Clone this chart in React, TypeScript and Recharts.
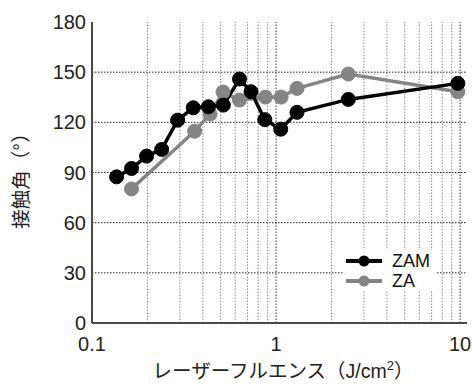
import { LineChart, Line, XAxis, YAxis, ReferenceLine, Legend } from 'recharts'

// ZAM / ZA contact angle vs laser fluence
const zamFluence = [0.136, 0.164, 0.198, 0.239, 0.292, 0.355, 0.429, 0.517, 0.633, 0.731, 0.869, 1.06, 1.3, 2.47, 9.72]
const zamAngle = [87.4, 92.4, 99.8, 103.8, 121.3, 128.7, 129.3, 130.3, 145.9, 138.3, 121.6, 115.9, 126, 133.7, 143.3]
const zaFluence = [0.164, 0.361, 0.438, 0.515, 0.633, 0.875, 1.065, 1.3, 2.47, 9.72]
const zaAngle = [80.2, 114.7, 124.9, 138.1, 133.3, 135.1, 135.1, 140.3, 148.9, 138.3]

const xTicks = [0.1, 1, 10]
const xMinor = [0.2, 0.3, 0.4, 0.5, 0.6, 0.7, 0.8, 0.9, 2, 3, 4, 5, 6, 7, 8, 9]
const yTicks = [0, 30, 60, 90, 120, 150, 180]
const yGrid = [30, 60, 90, 120, 150]

const X_DOMAIN: [number, number] = [0.1, 10.9]
const Y_DOMAIN: [number, number] = [0, 180]

const ZAM_COLOR = '#000000'
const ZA_COLOR = '#858585'
const AXIS_COLOR = '#4a4a4a'
const FONT = '"Liberation Sans", Arial, "Noto Sans CJK JP", sans-serif'

const zamData = zamFluence.map((x, i) => ({ x, y: zamAngle[i] }))
const zaData = zaFluence.map((x, i) => ({ x, y: zaAngle[i] }))

const series = [
  { name: 'ZAM', color: ZAM_COLOR },
  { name: 'ZA', color: ZA_COLOR },
]

const noLabel = () => <g />
const tickStroke = { stroke: AXIS_COLOR, strokeWidth: 1.5 }

function LegendBox() {
  return (
    <div style={{ background: '#fff', width: 94, paddingTop: 1 }}>
      {series.map((s) => (
        <div key={s.name} style={{ display: 'flex', alignItems: 'center', height: 20 }}>
          <svg width={36} height={20} style={{ marginLeft: 3 }}>
            <line x1={0} y1={10} x2={36} y2={10} stroke={s.color} strokeWidth={4} />
            <circle cx={18} cy={10} r={5.5} fill={s.color} />
          </svg>
          <span style={{ marginLeft: 10, fontSize: 18, color: '#111', fontFamily: FONT }}>{s.name}</span>
        </div>
      ))}
    </div>
  )
}

export default function App() {
  return (
    <div style={{ position: 'absolute', left: 0, top: 0, width: 472, height: 385, background: '#fff', fontFamily: FONT }}>
      <LineChart width={472} height={385} margin={{ top: 22, right: 5, bottom: 0, left: 0 }} style={{ fontFamily: FONT }}>
        {xMinor.map((v) => (
          <ReferenceLine key={'vx' + v} x={v} stroke="#8a8a8a" strokeDasharray="1.5 1.5" />
        ))}
        {xTicks.slice(1).map((v) => (
          <ReferenceLine key={'vX' + v} x={v} stroke="#333" strokeDasharray="1.5 1.5" />
        ))}
        {yGrid.map((v) => (
          <ReferenceLine key={'hy' + v} y={v} stroke="#222" strokeDasharray="1.5 1.5" />
        ))}

        <XAxis
          dataKey="x"
          type="number"
          scale="log"
          domain={X_DOMAIN}
          allowDataOverflow
          ticks={xTicks}
          height={62}
          tickLine={false}
          tickSize={0}
          tickMargin={14}
          axisLine={{ stroke: AXIS_COLOR, strokeWidth: 2 }}
          tick={{ fontSize: 20, fill: '#222' }}
          tickFormatter={(v) => String(v)}
        />
        <XAxis xAxisId="bMaj" dataKey="x" type="number" scale="log" domain={X_DOMAIN} allowDataOverflow
          ticks={xTicks} orientation="bottom" mirror height={0} axisLine={false} tickSize={9}
          tickLine={tickStroke} tick={noLabel} />
        <XAxis xAxisId="bMin" dataKey="x" type="number" scale="log" domain={X_DOMAIN} allowDataOverflow
          ticks={xMinor} orientation="bottom" mirror height={0} axisLine={false} tickSize={5}
          tickLine={tickStroke} tick={noLabel} />
        <XAxis xAxisId="tMaj" dataKey="x" type="number" scale="log" domain={X_DOMAIN} allowDataOverflow
          ticks={xTicks} orientation="top" mirror height={0} tickSize={9}
          axisLine={{ stroke: AXIS_COLOR, strokeWidth: 2 }}
          tickLine={tickStroke} tick={noLabel} />
        <XAxis xAxisId="tMin" dataKey="x" type="number" scale="log" domain={X_DOMAIN} allowDataOverflow
          ticks={xMinor} orientation="top" mirror height={0} axisLine={false} tickSize={5}
          tickLine={tickStroke} tick={noLabel} />

        <YAxis
          type="number"
          domain={Y_DOMAIN}
          ticks={yTicks}
          width={92}
          tickLine={false}
          tickSize={0}
          tickMargin={6}
          axisLine={{ stroke: AXIS_COLOR, strokeWidth: 2 }}
          tick={{ fontSize: 20, fill: '#222' }}
        />
        <YAxis yAxisId="lTick" type="number" domain={Y_DOMAIN} ticks={yTicks} orientation="left" mirror width={0}
          axisLine={false} tickSize={8} tickLine={tickStroke} tick={noLabel} />
        <YAxis yAxisId="rTick" type="number" domain={Y_DOMAIN} ticks={yTicks} orientation="right" mirror width={0}
          axisLine={{ stroke: AXIS_COLOR, strokeWidth: 2 }} tickSize={8}
          tickLine={tickStroke} tick={noLabel} />

        <Line
          data={zaData}
          dataKey="y"
          name="ZA"
          stroke={ZA_COLOR}
          strokeWidth={3.5}
          dot={{ r: 7, fill: ZA_COLOR, stroke: ZA_COLOR, strokeWidth: 1 }}
          activeDot={false}
          isAnimationActive={false}
        />
        <Line
          data={zamData}
          dataKey="y"
          name="ZAM"
          stroke={ZAM_COLOR}
          strokeWidth={3.5}
          dot={{ r: 7, fill: ZAM_COLOR, stroke: ZAM_COLOR, strokeWidth: 1 }}
          activeDot={false}
          isAnimationActive={false}
        />

        <Legend
          layout="vertical"
          align="center"
          verticalAlign="middle"
          content={() => <LegendBox />}
          wrapperStyle={{ left: 343, top: 250, width: 94, height: 42 }}
        />
      </LineChart>

      <div
        style={{
          position: 'absolute', left: 283, top: 362, transform: 'translateX(-50%)',
          fontSize: 19.5, lineHeight: 1, whiteSpace: 'nowrap', color: '#222',
        }}
      >
        レーザーフルエンス（J/cm<span style={{ fontSize: 13, position: 'relative', top: -8 }}>2</span>）
      </div>
      <div
        style={{
          position: 'absolute', left: 22, top: 176, transform: 'translate(-50%, -50%) rotate(-90deg)',
          fontSize: 19.5, lineHeight: 1, whiteSpace: 'nowrap', color: '#222',
        }}
      >
        接触角（°）
      </div>
    </div>
  )
}
